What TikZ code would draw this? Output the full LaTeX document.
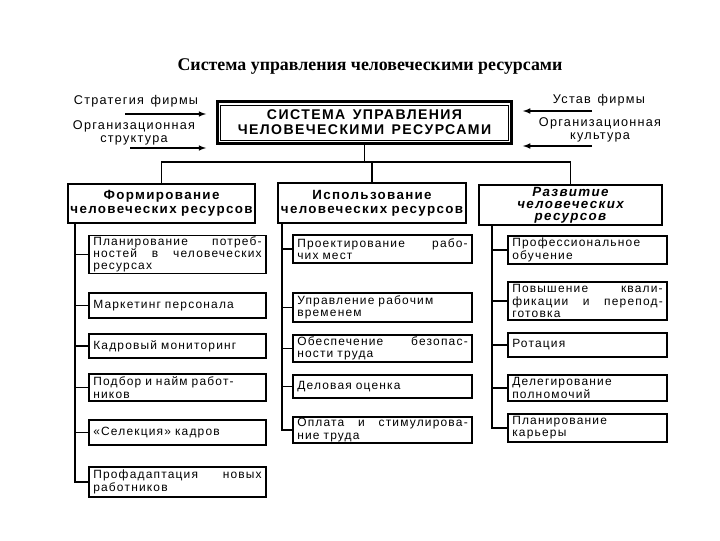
\documentclass[tikz,border=0pt]{standalone}
\usepackage{fontspec}
\newfontfamily\boxfont{Liberation Sans}[LetterSpace=10, WordSpace=1.4]
\newfontfamily\titlefont{Liberation Serif}
\usetikzlibrary{arrows}

\tikzset{
  leaf/.style={draw, line width=.9pt, align=left, inner xsep=3pt, inner ysep=0pt,
    text width=#1, font=\boxfont\fontsize{8.5}{8.7}\selectfont},
  branch/.style={draw, line width=1.5pt, align=center, inner sep=1pt,
    text width=#1, font=\boxfont\bfseries\fontsize{9.5}{10}\selectfont},
  side/.style={align=center, inner sep=0pt, font=\boxfont\fontsize{9}{9}\selectfont},
  wire/.style={line width=.9pt},
  feed/.style={->, line width=.8pt, shorten >=7pt},
}

\begin{document}
\begin{tikzpicture}[x=0.025cm, y=-0.025cm, >=latex]
\useasboundingbox (0,0) rectangle (720,540);

\node[font=\titlefont\bfseries\fontsize{12.7}{14}\selectfont] (title) at (370,67)
  {Система управления человеческими ресурсами};

% central box
\node[draw, line width=2.2pt, minimum width=7.35cm, minimum height=1.05cm, align=center,
  font=\boxfont\bfseries\fontsize{10}{10.8}\selectfont] (sys) at (364.5,122.5)
  {СИСТЕМА УПРАВЛЕНИЯ\\ЧЕЛОВЕЧЕСКИМИ РЕСУРСАМИ};
\draw[line width=.5pt] ([xshift=3.5pt,yshift=-3.5pt]sys.north west) rectangle ([xshift=-3.5pt,yshift=3.5pt]sys.south east);

% inputs
\path
(136,101) node[side] (strat) {Стратегия фирмы}
(134,133) node[side] (orgS)  {Организационная\\структура}
(599,100) node[side] (ustav) {Устав фирмы}
(600,130) node[side] (orgK)  {Организационная\\культура};

\coordinate (inS) at (125,114);
\coordinate (inO) at (130,148);
\coordinate (inU) at (592,111);
\coordinate (inK) at (592,146);
\draw[feed] (inS) -- (inS -| sys.west);
\draw[feed] (inO) -- (inO -| sys.west);
\draw[feed] (inU) -- (inU -| sys.east);
\draw[feed] (inK) -- (inK -| sys.east);

% second level
\path
(161.5,203.5) node[branch=4.6cm, minimum height=.975cm] (A) {Формирование\\человеческих ресурсов}
(372,203)     node[branch=4.62cm, minimum height=1cm]   (B) {Использование\\человеческих ресурсов}
(570.5,205)   node[branch=4.5cm, minimum height=1cm, font=\boxfont\bfseries\fontsize{9.5}{8.6}\selectfont] (C) {\itshape Развитие\\человеческих\\ресурсов};

\coordinate (bus) at (364.5,162);
\draw[wire] (sys.south) -- (sys.south |- bus);
\draw[wire] (A.north) |- (bus) -| (C.north);
\draw[wire] (bus -| B.north) -- (B.north);

% forming
\path
(177.5,254.5) node[leaf=4.21cm, minimum height=.95cm]  (f1) {Планирование\hfill потреб-\\ностей\hfill в\hfill человеческих\\ресурсах}
(177.5,305.5) node[leaf=4.21cm, minimum height=.625cm] (f2) {Маркетинг персонала}
(177.5,346)   node[leaf=4.21cm, minimum height=.6cm]   (f3) {Кадровый мониторинг}
(177.5,387.5) node[leaf=4.21cm, minimum height=.675cm] (f4) {Подбор и найм работ-\\ников}
(177.5,432.5) node[leaf=4.21cm, minimum height=.625cm] (f5) {«Селекция» кадров}
(177.5,482)   node[leaf=4.21cm, minimum height=.75cm]  (f6) {Профадаптация\hfill новых\\работников};

% using
\path
(382.5,249)   node[leaf=4.26cm, minimum height=.7cm]   (u1) {Проектирование\hfill рабо-\\чих мест}
(382.5,307.5) node[leaf=4.26cm, minimum height=.725cm] (u2) {Управление рабочим\\временем}
(382.5,348.5) node[leaf=4.26cm, minimum height=.675cm] (u3) {Обеспечение\hfill безопас-\\ности труда}
(382.5,386.5) node[leaf=4.26cm, minimum height=.575cm] (u4) {Деловая оценка}
(382.5,430)   node[leaf=4.26cm, minimum height=.65cm]  (u5) {Оплата\hfill и\hfill стимулирова-\\ние труда};

% developing
\path
(587.5,250) node[leaf=3.76cm, minimum height=.7cm]  (d1) {Профессиональное\\обучение}
(587.5,301) node[leaf=3.76cm, minimum height=.95cm] (d2) {Повышение\hfill квали-\\фикации\hfill и\hfill перепод-\\готовка}
(587.5,345) node[leaf=3.76cm, minimum height=.6cm]  (d3) {Ротация}
(587.5,388) node[leaf=3.76cm, minimum height=.65cm] (d4) {Делегирование\\полномочий}
(587.5,428) node[leaf=3.76cm, minimum height=.7cm]  (d5) {Планирование\\карьеры};

% spines
\coordinate (spA) at (75,0);
\coordinate (spB) at (282,0);
\coordinate (spC) at (492,0);

\draw[wire] (A.south -| spA) |- (f6.west);
\draw[wire] (spA |- f1.west) -- (f1.west);
\draw[wire] (spA |- f2.west) -- (f2.west);
\draw[wire] (spA |- f3.west) -- (f3.west);
\draw[wire] (spA |- f4.west) -- (f4.west);
\draw[wire] (spA |- f5.west) -- (f5.west);

\draw[wire] (B.south -| spB) |- (u5.west);
\draw[wire] (spB |- u1.west) -- (u1.west);
\draw[wire] (spB |- u2.west) -- (u2.west);
\draw[wire] (spB |- u3.west) -- (u3.west);
\draw[wire] (spB |- u4.west) -- (u4.west);

\draw[wire] (C.south -| spC) |- (d5.west);
\draw[wire] (spC |- d1.west) -- (d1.west);
\draw[wire] (spC |- d2.west) -- (d2.west);
\draw[wire] (spC |- d3.west) -- (d3.west);
\draw[wire] (spC |- d4.west) -- (d4.west);
\end{tikzpicture}
\end{document}
